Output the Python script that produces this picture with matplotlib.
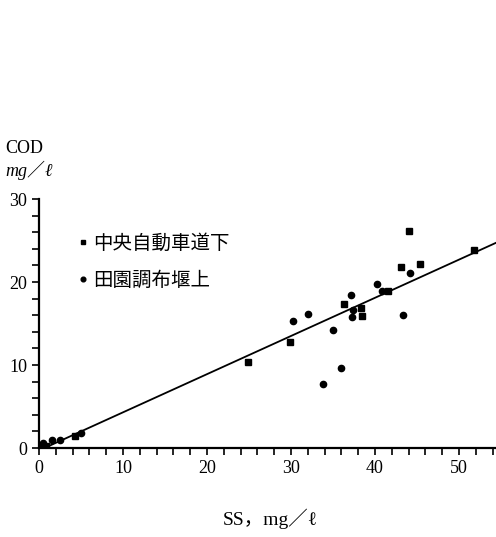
import matplotlib.pyplot as plt
import numpy as np

# 中央自動車道下 (squares)
ss_chuo = [0.3, 0.8, 4.3, 24.9, 29.9, 36.3, 38.3, 38.5, 41.5, 43.1, 44.0, 45.4, 51.8]
cod_chuo = [0.2, 0.3, 1.5, 10.4, 12.8, 17.4, 16.9, 15.9, 18.9, 21.8, 26.1, 22.2, 23.9]

# 田園調布堰上 (circles)
ss_den = [0.5, 1.5, 2.5, 5.0, 30.2, 32.0, 33.8, 35.0, 36.0, 37.1, 37.2, 37.4, 40.2, 40.8, 43.3, 44.2]
cod_den = [0.6, 1.0, 1.0, 1.8, 15.3, 16.1, 7.7, 14.2, 9.7, 18.4, 15.8, 16.6, 19.8, 18.9, 16.0, 21.1]

# regression line
slope = 0.46
intercept = -0.3

serif = ['Liberation Serif', 'Noto Sans CJK JP', 'DejaVu Serif']
jp = ['Noto Sans CJK JP', 'DejaVu Sans']

fig = plt.figure(figsize=(4.96, 5.37), dpi=100)
ax = fig.add_axes([0.0786, 0.1657, 0.9214, 0.4637])

ax.plot(ss_chuo, cod_chuo, 's', color='black', ms=4, label='中央自動車道下')
ax.plot(ss_den, cod_den, 'o', color='black', ms=4.5, label='田園調布堰上')

xl = np.array([0, 54.4])
ax.plot(xl, slope * xl + intercept, color='black', lw=1.3)

ax.set_xlim(0, 54.4)
ax.set_ylim(0, 30)
for s in ['top', 'right']:
    ax.spines[s].set_visible(False)
for s in ['left', 'bottom']:
    ax.spines[s].set_linewidth(1.6)

ax.set_xticks(np.arange(0, 51, 10))
ax.set_xticks(np.arange(0, 55, 2), minor=True)
ax.set_yticks([0, 10, 20, 30])
ax.set_yticks(np.arange(0, 31, 2), minor=True)
ax.tick_params(which='both', direction='out', length=5, width=1.2)
for lab in ax.get_xticklabels() + ax.get_yticklabels():
    lab.set_fontfamily(serif)
    lab.set_fontsize(13)

leg = ax.legend(loc='upper left', bbox_to_anchor=(0.05, 0.935), frameon=False,
                prop={'family': jp, 'size': 14}, handlelength=0.4,
                handletextpad=0.3, labelspacing=0.85, markerscale=0.75)

fig.text(0.01, 0.715, 'COD', fontfamily=serif, fontsize=13)
fig.text(0.01, 0.672, 'mg／ℓ', fontfamily=serif, fontsize=13, style='italic')
fig.text(0.545, 0.022, 'SS，mg／ℓ', fontfamily=serif, fontsize=14, ha='center')

plt.savefig('out.png', dpi=100)
